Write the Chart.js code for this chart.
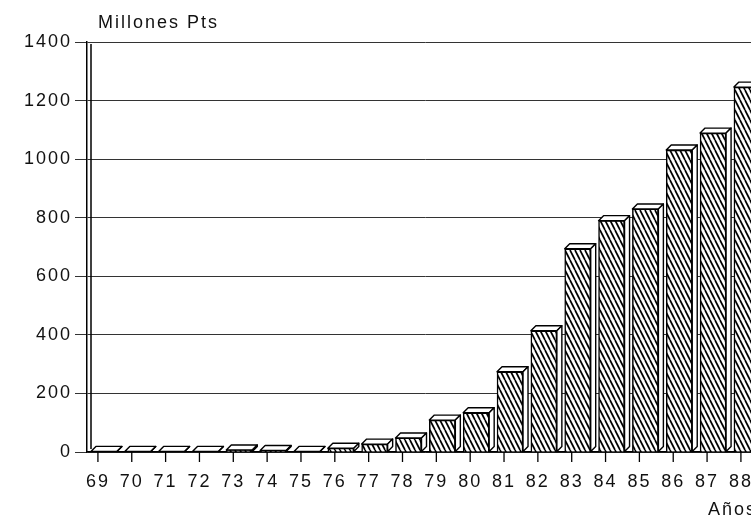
<!DOCTYPE html>
<html>
<head>
<meta charset="utf-8">
<script src="https://cdn.jsdelivr.net/npm/chart.js@4"></script>
<style>
  html, body { margin: 0; padding: 0; background: #fff; overflow: hidden; }
  #wrap { position: relative; width: 770px; height: 517px; }
</style>
</head>
<body>
<div id="wrap"><canvas id="chart"></canvas></div>
<script>
const years = ['69', '70', '71', '72', '73', '74', '75', '76', '77', '78',
               '79', '80', '81', '82', '83', '84', '85', '86', '87', '88'];
const millones = [2, 2, 2, 2, 7, 5, 2, 13, 27, 48,
                  109, 134, 274, 414, 694, 790, 830, 1031, 1089, 1246];
const yTicks = [0, 200, 400, 600, 800, 1000, 1200, 1400];
const yTitle = 'Millones Pts';
const xTitle = 'Años';

const FONT = 'Liberation Sans, Arial, sans-serif';
const DEPTH = 5;

// diagonal hatch for the bar fronts
const makeHatch = () => {
    const c = document.createElement('canvas');
    c.width = 5; c.height = 10;
    const g = c.getContext('2d');
    g.fillStyle = '#fff';
    g.fillRect(0, 0, 5, 10);
    g.strokeStyle = '#000';
    g.lineWidth = 1.7;
    [-5, 0, 5].forEach(x0 => {
        g.beginPath();
        g.moveTo(x0, 0);
        g.lineTo(x0 + 5, 10);
        g.stroke();
    });
    return g.createPattern(c, 'repeat');
};

const spacing = {
    id: 'spacing',
    beforeLayout: chart => { chart.ctx.letterSpacing = '2px'; },
    beforeDraw: chart => { chart.ctx.letterSpacing = '2px'; }
};

// 3d faces, second wall line, x tick marks and titles
const decor = {
    id: 'decor',
    beforeDatasetsDraw(chart) {
        const { ctx, chartArea } = chart;
        ctx.save();
        ctx.strokeStyle = '#000';
        ctx.lineWidth = 1.5;
        ctx.beginPath();
        ctx.moveTo(chartArea.left + 4, chartArea.top + 2);
        ctx.lineTo(chartArea.left + 4, chartArea.bottom - 3);
        ctx.stroke();
        ctx.restore();
    },
    afterDatasetsDraw(chart) {
        const { ctx } = chart;
        const meta = chart.getDatasetMeta(0);
        ctx.save();
        ctx.strokeStyle = '#000';
        ctx.lineWidth = 1.4;
        ctx.fillStyle = '#fff';
        ctx.lineJoin = 'round';
        meta.data.forEach(bar => {
            const l = bar.x - bar.width / 2, r = bar.x + bar.width / 2;
            const t = bar.y, b = bar.base;
            ctx.beginPath();
            ctx.moveTo(l, t);
            ctx.lineTo(l + DEPTH, t - DEPTH);
            ctx.lineTo(r + DEPTH, t - DEPTH);
            ctx.lineTo(r, t);
            ctx.closePath();
            ctx.fill(); ctx.stroke();
            ctx.beginPath();
            ctx.moveTo(r, t);
            ctx.lineTo(r + DEPTH, t - DEPTH);
            ctx.lineTo(r + DEPTH, b - DEPTH);
            ctx.lineTo(r, b);
            ctx.closePath();
            ctx.fill(); ctx.stroke();
        });
        ctx.restore();
    },
    afterDraw(chart) {
        const { ctx, chartArea, scales } = chart;
        ctx.save();
        ctx.strokeStyle = '#000';
        ctx.lineWidth = 1.3;
        years.forEach((_, i) => {
            const x = scales.x.getPixelForValue(i) - 6;
            ctx.beginPath();
            ctx.moveTo(x, chartArea.bottom);
            ctx.lineTo(x, chartArea.bottom + 10);
            ctx.stroke();
        });
        ctx.letterSpacing = '2px';
        ctx.fillStyle = '#111';
        ctx.font = '18px ' + FONT;
        ctx.textAlign = 'left';
        ctx.textBaseline = 'alphabetic';
        ctx.fillText(yTitle, 98, 28);
        ctx.fillText(xTitle, 708, 515);
        ctx.restore();
    }
};

new Chart(document.getElementById('chart'), {
    type: 'bar',
    data: {
        labels: years,
        datasets: [{
            data: millones,
            backgroundColor: makeHatch(),
            borderColor: '#000',
            borderWidth: 1.5,
            borderSkipped: 'bottom',
            barThickness: 26
        }]
    },
    plugins: [spacing, decor],
    options: {
        responsive: true,
        maintainAspectRatio: false,
        animation: false,
        layout: { padding: { left: 8, top: 42, right: 3, bottom: 0 } },
        plugins: { legend: { display: false }, tooltip: { enabled: false } },
        scales: {
            x: {
                offset: true,
                afterFit: axis => { axis.height = 65; },
                grid: { display: false },
                border: { display: true, color: '#000', width: 1.5 },
                ticks: {
                    color: '#111',
                    font: { family: FONT, size: 18 },
                    labelOffset: -6,
                    padding: 11,
                    maxRotation: 0,
                    autoSkip: false
                }
            },
            y: {
                min: 0,
                max: 1400,
                afterFit: axis => { axis.width = 79; },
                afterBuildTicks: axis => { axis.ticks = yTicks.map(v => ({ value: v })); },
                grid: { color: '#333', lineWidth: 1, tickLength: 12 },
                border: { display: true, color: '#000', width: 1.5 },
                ticks: {
                    color: '#111',
                    font: { family: FONT, size: 18 },
                    padding: 3,
                    callback: v => String(v)
                }
            }
        }
    }
});
</script>
</body>
</html>
